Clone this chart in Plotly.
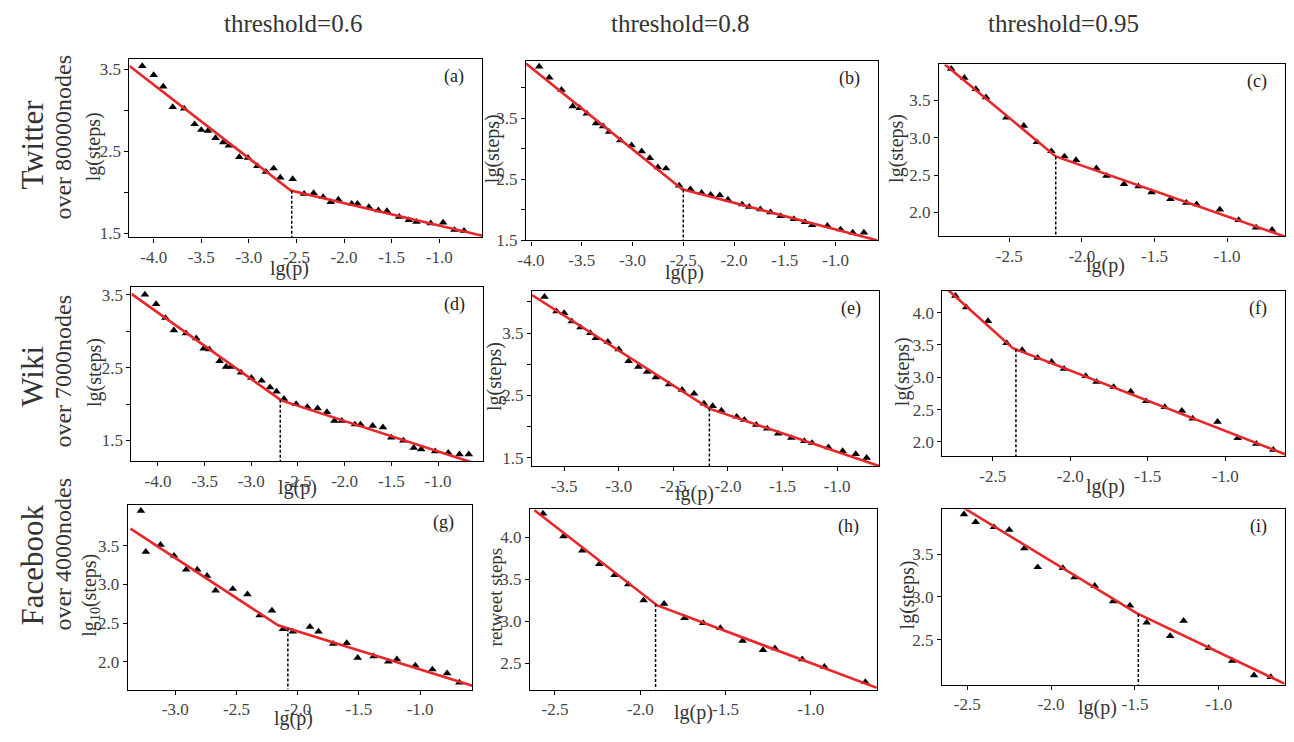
import numpy as np
import plotly.graph_objects as go

# The page body has an 8px default margin, so the figure is sized to fit inside it
PAGE_W, PAGE_H = 1294, 742
OFF = 8
W, H = PAGE_W - 2 * OFF, PAGE_H - 2 * OFF


def fx_(px):
    return min(1.0, max(0.0, (px - OFF) / W))


def fy_(py):
    return min(1.0, max(0.0, 1 - (py - OFF) / H))


# ---------------- data ----------------
a_x = [-4.12,-4.00,-3.90,-3.80,-3.68,-3.57,-3.50,-3.43,-3.35,-3.27,-3.21,-3.10,-3.01,-2.91,-2.82,-2.74,-2.67,-2.54,-2.42,-2.32,-2.22,-2.14,-2.06,-1.92,-1.86,-1.74,-1.64,-1.55,-1.42,-1.32,-1.24,-1.09,-0.96,-0.84,-0.74]
a_y = [3.54,3.43,3.29,3.04,3.02,2.83,2.76,2.75,2.66,2.61,2.57,2.43,2.42,2.32,2.25,2.29,2.18,2.16,1.98,1.99,1.94,1.88,1.91,1.86,1.86,1.82,1.78,1.77,1.70,1.66,1.64,1.62,1.63,1.54,1.53]
a_fit_x = [-4.254, -2.56, -0.547]
a_fit_y = [3.54, 2.02, 1.47]
a_cut = -2.55

b_x = [-3.92,-3.82,-3.70,-3.59,-3.52,-3.45,-3.36,-3.29,-3.23,-3.12,-3.01,-2.91,-2.83,-2.75,-2.67,-2.54,-2.43,-2.32,-2.23,-2.14,-2.06,-1.92,-1.85,-1.74,-1.64,-1.54,-1.41,-1.30,-1.23,-1.08,-0.95,-0.83,-0.72]
b_y = [4.35,4.17,3.97,3.70,3.67,3.58,3.42,3.37,3.28,3.14,3.06,2.96,2.85,2.70,2.68,2.40,2.34,2.28,2.25,2.24,2.17,2.09,2.05,2.01,1.96,1.90,1.85,1.80,1.75,1.74,1.68,1.63,1.63]
b_fit_x = [-4.05, -2.51, -0.585]
b_fit_y = [4.40, 2.34, 1.50]
b_cut = -2.50

c_x = [-2.90,-2.81,-2.73,-2.66,-2.52,-2.40,-2.31,-2.21,-2.12,-2.04,-1.90,-1.83,-1.71,-1.61,-1.52,-1.39,-1.28,-1.21,-1.05,-0.92,-0.80,-0.69]
c_y = [3.92,3.80,3.65,3.54,3.27,3.16,2.94,2.82,2.75,2.70,2.59,2.49,2.38,2.35,2.27,2.18,2.13,2.11,2.04,1.90,1.80,1.77]
c_fit_x = [-2.944, -2.18, -0.603]
c_fit_y = [3.98, 2.75, 1.68]
c_cut = -2.18

d_x = [-4.14,-4.02,-3.92,-3.83,-3.70,-3.59,-3.51,-3.45,-3.34,-3.27,-3.22,-3.11,-3.00,-2.89,-2.80,-2.73,-2.65,-2.52,-2.40,-2.29,-2.19,-2.11,-2.03,-1.89,-1.83,-1.70,-1.59,-1.50,-1.37,-1.26,-1.18,-1.03,-0.89,-0.77,-0.67]
d_y = [3.50,3.37,3.18,3.01,2.97,2.90,2.76,2.75,2.59,2.51,2.51,2.43,2.36,2.32,2.23,2.17,2.07,2.00,1.96,1.94,1.89,1.77,1.77,1.72,1.72,1.70,1.68,1.54,1.50,1.40,1.38,1.35,1.33,1.31,1.31]
d_fit_x = [-4.284, -2.68, -0.518]
d_fit_y = [3.51, 2.05, 1.15]
d_cut = -2.69

e_x = [-3.68,-3.57,-3.50,-3.43,-3.35,-3.26,-3.21,-3.10,-3.00,-2.91,-2.82,-2.74,-2.66,-2.54,-2.42,-2.31,-2.22,-2.14,-2.06,-1.92,-1.85,-1.74,-1.64,-1.54,-1.42,-1.30,-1.23,-1.08,-0.95,-0.83,-0.73]
e_y = [4.08,3.85,3.82,3.69,3.59,3.50,3.42,3.36,3.24,3.05,2.96,2.88,2.79,2.68,2.59,2.53,2.37,2.33,2.26,2.16,2.11,2.03,1.97,1.89,1.82,1.77,1.74,1.67,1.61,1.56,1.50]
e_fit_x = [-3.794, -2.17, -0.615]
e_fit_y = [4.11, 2.29, 1.37]
e_cut = -2.17

f_x = [-2.74,-2.67,-2.53,-2.41,-2.31,-2.21,-2.12,-2.04,-1.90,-1.83,-1.72,-1.61,-1.51,-1.39,-1.28,-1.21,-1.05,-0.92,-0.80,-0.69]
f_y = [4.26,4.08,3.87,3.53,3.42,3.30,3.24,3.13,3.02,2.93,2.85,2.78,2.63,2.54,2.48,2.36,2.31,2.06,1.97,1.88]
f_fit_x = [-2.787, -2.37, -0.613]
f_fit_y = [4.35, 3.45, 1.81]
f_cut = -2.35

g_x = [-3.28,-3.24,-3.12,-3.01,-2.91,-2.82,-2.74,-2.67,-2.53,-2.41,-2.31,-2.21,-2.12,-2.04,-1.90,-1.83,-1.71,-1.60,-1.51,-1.38,-1.26,-1.19,-1.04,-0.90,-0.78,-0.68]
g_y = [3.95,3.42,3.51,3.37,3.19,3.19,3.11,2.92,2.94,2.87,2.60,2.66,2.42,2.39,2.45,2.39,2.23,2.24,2.05,2.07,2.00,2.03,1.95,1.90,1.85,1.73]
g_fit_x = [-3.365, -2.16, -0.573]
g_fit_y = [3.72, 2.47, 1.69]
g_cut = -2.08

h_x = [-2.57,-2.45,-2.34,-2.24,-2.15,-2.07,-1.98,-1.86,-1.74,-1.63,-1.53,-1.40,-1.28,-1.21,-1.05,-0.92,-0.68]
h_y = [4.28,4.01,3.84,3.68,3.55,3.44,3.25,3.21,3.04,2.98,2.92,2.77,2.66,2.68,2.55,2.46,2.28]
h_fit_x = [-2.62, -1.90, -0.612]
h_fit_y = [4.32, 3.19, 2.21]
h_cut = -1.91

i_x = [-2.52,-2.45,-2.34,-2.25,-2.16,-2.08,-1.93,-1.86,-1.74,-1.63,-1.53,-1.43,-1.29,-1.21,-1.06,-0.92,-0.79,-0.69]
i_y = [3.97,3.88,3.82,3.79,3.57,3.35,3.34,3.23,3.13,2.95,2.90,2.70,2.54,2.72,2.40,2.25,2.08,2.06]
i_fit_x = [-2.516, -1.49, -0.607]
i_fit_y = [4.04, 2.81, 1.98]
i_cut = -1.48

col_titles = ["threshold=0.6", "threshold=0.8", "threshold=0.95"]
row_names = ["Twitter", "Wiki", "Facebook"]
row_subs = ["over 80000nodes", "over 7000nodes", "over 4000nodes"]
panel_letters = ["(a)", "(b)", "(c)", "(d)", "(e)", "(f)", "(g)", "(h)", "(i)"]

xt_4 = [-4.0, -3.5, -3.0, -2.5, -2.0, -1.5, -1.0]
xt_35 = [-3.5, -3.0, -2.5, -2.0, -1.5, -1.0]
xt_3 = [-3.0, -2.5, -2.0, -1.5, -1.0]
xt_25 = [-2.5, -2.0, -1.5, -1.0]
yt_a = [1.5, 2.0, 2.5, 3.0, 3.5]
yl_a = ["1.5", "", "2.5", "", "3.5"]
yt_b = [1.5, 2.0, 2.5, 3.0, 3.5, 4.0]
yl_b = ["1.5", "", "2.5", "", "3.5", ""]
yt_c = [2.0, 2.5, 3.0, 3.5]
yt_f = [2.0, 2.5, 3.0, 3.5, 4.0]
yt_h = [2.5, 3.0, 3.5, 4.0]
yt_i = [2.5, 3.0, 3.5]

# ---------------- layout geometry (page pixels) ----------------
panels = [
    dict(x=a_x, y=a_y, fx=a_fit_x, fy=a_fit_y, cut=a_cut, box=(122.3, 58.3, 477.7, 239.3),
         xr=[-4.254, -0.547], yr=[1.448, 3.62], xt=xt_4, yt=yt_a, yl=yl_a,
         ytitle="lg(steps)", ytdx=-36, xtdx=-17, xtdy=32),
    dict(x=b_x, y=b_y, fx=b_fit_x, fy=b_fit_y, cut=b_cut, box=(521.7, 60, 875.7, 242.3),
         xr=[-4.049, -0.585], yr=[1.5, 4.44], xt=xt_4, yt=yt_b, yl=yl_b,
         ytitle="lg(steps)", ytdx=-34, xtdx=-17, xtdy=33),
    dict(x=c_x, y=c_y, fx=c_fit_x, fy=c_fit_y, cut=c_cut, box=(937.7, 63.3, 1285.7, 238.3),
         xr=[-2.983, -0.603], yr=[1.68, 3.98], xt=xt_25, yt=yt_c, yl=None,
         ytitle="lg(steps)", ytdx=-43, xtdx=-6, xtdy=30),
    dict(x=d_x, y=d_y, fx=d_fit_x, fy=d_fit_y, cut=d_cut, box=(124.3, 290, 478.3, 466.7),
         xr=[-4.284, -0.518], yr=[1.217, 3.60], xt=xt_4, yt=yt_a, yl=yl_a,
         ytitle="lg(steps)", ytdx=-37, xtdx=-10, xtdy=27),
    dict(x=e_x, y=e_y, fx=e_fit_x, fy=e_fit_y, cut=e_cut, box=(527.7, 294, 877.3, 471.7),
         xr=[-3.794, -0.615], yr=[1.37, 4.17], xt=xt_35, yt=yt_b, yl=yl_b,
         ytitle="lg(steps)", ytdx=-38, xtdx=-11, xtdy=28),
    dict(x=f_x, y=f_y, fx=f_fit_x, fy=f_fit_y, cut=f_cut, box=(941, 293.3, 1286, 461.7),
         xr=[-2.824, -0.615], yr=[1.78, 4.34], xt=xt_25, yt=yt_f, yl=None,
         ytitle="lg(steps)", ytdx=-40, xtdx=-8, xtdy=31),
    dict(x=g_x, y=g_y, fx=g_fit_x, fy=g_fit_y, cut=g_cut, box=(120.7, 511.7, 467.7, 699),
         xr=[-3.386, -0.573], yr=[1.64, 4.02], xt=xt_3, yt=yt_c, yl=None,
         ytitle="lg<sub>10</sub>(steps)", ytdx=-38, xtdx=-7, xtdy=29),
    dict(x=h_x, y=h_y, fx=h_fit_x, fy=h_fit_y, cut=h_cut, box=(525.7, 515, 875, 699),
         xr=[-2.646, -0.612], yr=[2.19, 4.34], xt=xt_25, yt=yt_h, yl=None,
         ytitle="retweet steps", ytdx=-35, xtdx=-10, xtdy=23),
    dict(x=i_x, y=i_y, fx=i_fit_x, fy=i_fit_y, cut=i_cut, box=(940.7, 515.7, 1285.7, 694),
         xr=[-2.65, -0.607], yr=[1.97, 4.03], xt=xt_25, yt=yt_i, yl=None,
         ytitle="lg(steps)", ytdx=-35, xtdx=-16, xtdy=23),
]

FONT = "Liberation Serif"
fig = go.Figure()
annotations = []

for k, p in enumerate(panels, start=1):
    xa = "x" if k == 1 else f"x{k}"
    ya = "y" if k == 1 else f"y{k}"
    l, t, r, b = p["box"]
    fig.add_trace(go.Scatter(x=p["x"], y=p["y"], mode="markers", xaxis=xa, yaxis=ya,
                             marker=dict(symbol="triangle-up", size=7.6, color="black"),
                             showlegend=False))
    fig.add_trace(go.Scatter(x=p["fx"], y=p["fy"], mode="lines", xaxis=xa, yaxis=ya,
                             line=dict(color="#e8272b", width=2.6), showlegend=False))
    top = float(np.interp(p["cut"], p["fx"], p["fy"]))
    fig.add_trace(go.Scatter(x=[p["cut"], p["cut"]], y=[top, p["yr"][0]], mode="lines",
                             xaxis=xa, yaxis=ya,
                             line=dict(color="black", width=1.5, dash="3px,2px"), showlegend=False))

    ax_common = dict(showline=True, mirror=True, linecolor="black", linewidth=1.3,
                     ticks="outside", ticklen=4, tickwidth=1, tickcolor="black",
                     showgrid=False, zeroline=False,
                     tickfont=dict(family=FONT, size=17, color="#444"))
    xkey = "xaxis" if k == 1 else f"xaxis{k}"
    ykey = "yaxis" if k == 1 else f"yaxis{k}"
    fig.update_layout(**{
        xkey: dict(ax_common, domain=[fx_(l), fx_(r)], range=p["xr"], anchor=ya,
                   tickvals=p["xt"], ticktext=[f"{v:.1f}" for v in p["xt"]]),
        ykey: dict(ax_common, domain=[fy_(b), fy_(t)], range=p["yr"], anchor=xa,
                   tickvals=p["yt"],
                   ticktext=p["yl"] if p["yl"] else [f"{v:.1f}" for v in p["yt"]]),
    })
    annotations.append(dict(text=panel_letters[k - 1], xref=f"{xa} domain", yref=f"{ya} domain",
                            x=1, y=1, xanchor="right", yanchor="top", xshift=-16, yshift=-5,
                            showarrow=False, font=dict(family=FONT, size=18, color="#222")))
    annotations.append(dict(text="lg(p)", xref="paper", yref="paper",
                            x=fx_((l + r) / 2 + p["xtdx"]), y=fy_(b + p["xtdy"]),
                            xanchor="center", yanchor="middle", showarrow=False,
                            font=dict(family=FONT, size=20, color="#333")))
    annotations.append(dict(text=p["ytitle"], xref="paper", yref="paper",
                            x=fx_(l + p["ytdx"]), y=fy_((t + b) / 2 - 2),
                            xanchor="center", yanchor="middle", textangle=-90, showarrow=False,
                            font=dict(family=FONT, size=20 if k != 8 else 19, color="#333")))

for cx, txt in zip([287, 677, 1063], col_titles):
    annotations.append(dict(text=txt, xref="paper", yref="paper", x=fx_(cx), y=fy_(22),
                            xanchor="center", yanchor="middle", showarrow=False,
                            font=dict(family=FONT, size=25, color="#333")))
for cy, cy2, name, sub in zip([145, 380, 572], [137, 375, 561], row_names, row_subs):
    annotations.append(dict(text=name, xref="paper", yref="paper", x=fx_(25), y=fy_(cy),
                            xanchor="center", yanchor="middle", textangle=-90, showarrow=False,
                            font=dict(family=FONT, size=31, color="#333")))
    annotations.append(dict(text=sub, xref="paper", yref="paper", x=fx_(55), y=fy_(cy2),
                            xanchor="center", yanchor="middle", textangle=-90, showarrow=False,
                            font=dict(family=FONT, size=24, color="#333")))

fig.update_layout(width=W, height=H, margin=dict(l=0, r=0, t=0, b=0),
                  paper_bgcolor="white", plot_bgcolor="white",
                  annotations=annotations, showlegend=False)

fig.write_html("out.html")
